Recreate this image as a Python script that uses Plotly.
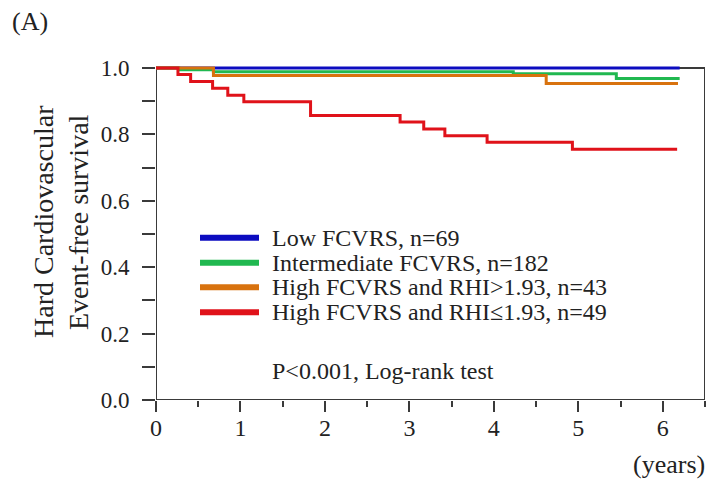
import plotly.graph_objects as go

# ---- data ----
low_t = [0, 6.2]
low_s = [1.0, 1.0]
int_t = [0, 0.27, 0.68, 4.23, 5.45, 6.2]
int_s = [1.0, 0.9945, 0.989, 0.983, 0.968, 0.968]
hi_t = [0, 0.68, 4.62, 6.18]
hi_s = [1.0, 0.977, 0.953, 0.953]
hilo_t = [0, 0.26, 0.41, 0.67, 0.85, 1.04, 1.83, 2.89, 3.17, 3.42, 3.92, 4.93, 6.17]
hilo_s = [1.0, 0.980, 0.959, 0.939, 0.918, 0.898, 0.857, 0.837, 0.816, 0.796, 0.776, 0.755, 0.755]

labels = ["Low FCVRS, n=69", "Intermediate FCVRS, n=182",
          "High FCVRS and RHI>1.93, n=43", "High FCVRS and RHI≤1.93, n=49"]
colors = ["#0C0CC0", "#20B850", "#D8720E", "#E0121A"]
x_ticks = [0, 1, 2, 3, 4, 5, 6]
y_ticks = [0.0, 0.2, 0.4, 0.6, 0.8, 1.0]

series = [(low_t, low_s), (int_t, int_s), (hi_t, hi_s), (hilo_t, hilo_s)]

FONT = "Liberation Serif, Times New Roman, serif"
AX = "#3a3a3a"
TXT = "#222"

fig = go.Figure()
for (t, s), c, name in zip(series, colors, labels):
    fig.add_trace(go.Scatter(x=t, y=s, mode="lines", line=dict(color=c, width=3, shape="hv"),
                             name=name, showlegend=False, hoverinfo="skip"))

W, H = 712, 481
ml, mr, mt, mb = 156, 7, 64, 81
pw = W - ml - mr
ph = H - mt - mb

def px(xp):
    return (xp - ml) / pw

def py(yp):
    return (H - mb - yp) / ph

shapes = [dict(type="rect", xref="x", yref="y", x0=0, x1=6.5, y0=0, y1=1.0,
               line=dict(color=AX, width=2), layer="below")]
annotations = []
leg_y = [237.7, 262.7, 287.3, 312.3]
for lab, c, yy in zip(labels, colors, leg_y):
    shapes.append(dict(type="line", xref="paper", yref="paper", x0=px(200), x1=px(259),
                       y0=py(yy), y1=py(yy), line=dict(color=c, width=6)))
    annotations.append(dict(xref="paper", yref="paper", x=px(270), y=py(yy), xanchor="left",
                            yanchor="middle", text=lab, showarrow=False,
                            font=dict(family=FONT, size=24, color=TXT)))

annotations += [
    dict(xref="paper", yref="paper", x=px(270), y=py(371), xanchor="left", yanchor="middle",
         text="P<0.001, Log-rank test", showarrow=False, font=dict(family=FONT, size=24, color=TXT)),
    dict(xref="paper", yref="paper", x=px(43), y=py(222), xanchor="center", yanchor="middle",
         text="Hard Cardiovascular", textangle=-90, showarrow=False,
         font=dict(family=FONT, size=28, color=TXT)),
    dict(xref="paper", yref="paper", x=px(78), y=py(222), xanchor="center", yanchor="middle",
         text="Event-free survival", textangle=-90, showarrow=False,
         font=dict(family=FONT, size=28, color=TXT)),
    dict(xref="paper", yref="paper", x=px(10), y=py(21), xanchor="left", yanchor="middle",
         text="(A)", showarrow=False, font=dict(family=FONT, size=26, color=TXT)),
    dict(xref="paper", yref="paper", x=px(707), y=py(464), xanchor="right", yanchor="middle",
         text="(years)", showarrow=False, font=dict(family=FONT, size=26, color=TXT)),
]

fig.update_layout(
    width=W, height=H, margin=dict(l=ml, r=mr, t=mt, b=mb),
    paper_bgcolor="white", plot_bgcolor="white",
    font=dict(family=FONT, size=24, color=TXT),
    shapes=shapes, annotations=annotations, showlegend=False,
    xaxis=dict(range=[0, 6.5], tickvals=x_ticks, ticktext=[str(v) for v in x_ticks],
               ticks="outside", ticklen=11, tickwidth=2, tickcolor=AX, showline=False,
               showgrid=False, zeroline=False, fixedrange=True, ticklabelstandoff=-5,
               minor=dict(dtick=0.5, ticks="outside", ticklen=6, tickwidth=2, tickcolor=AX, showgrid=False),
               tickfont=dict(family=FONT, size=24, color=TXT)),
    yaxis=dict(range=[0, 1.012], tickvals=y_ticks, ticktext=["%.1f" % v for v in y_ticks],
               ticks="outside", ticklen=13, tickwidth=2, tickcolor=AX, showline=False,
               showgrid=False, zeroline=False, fixedrange=True, ticklabelstandoff=8,
               minor=dict(dtick=0.1, ticks="outside", ticklen=13, tickwidth=2, tickcolor=AX, showgrid=False),
               tickfont=dict(family=FONT, size=23, color=TXT)),
)

fig.write_html("out.html", config={"displayModeBar": False},
               post_script="document.body.style.margin='0';document.body.style.overflow='hidden';")
